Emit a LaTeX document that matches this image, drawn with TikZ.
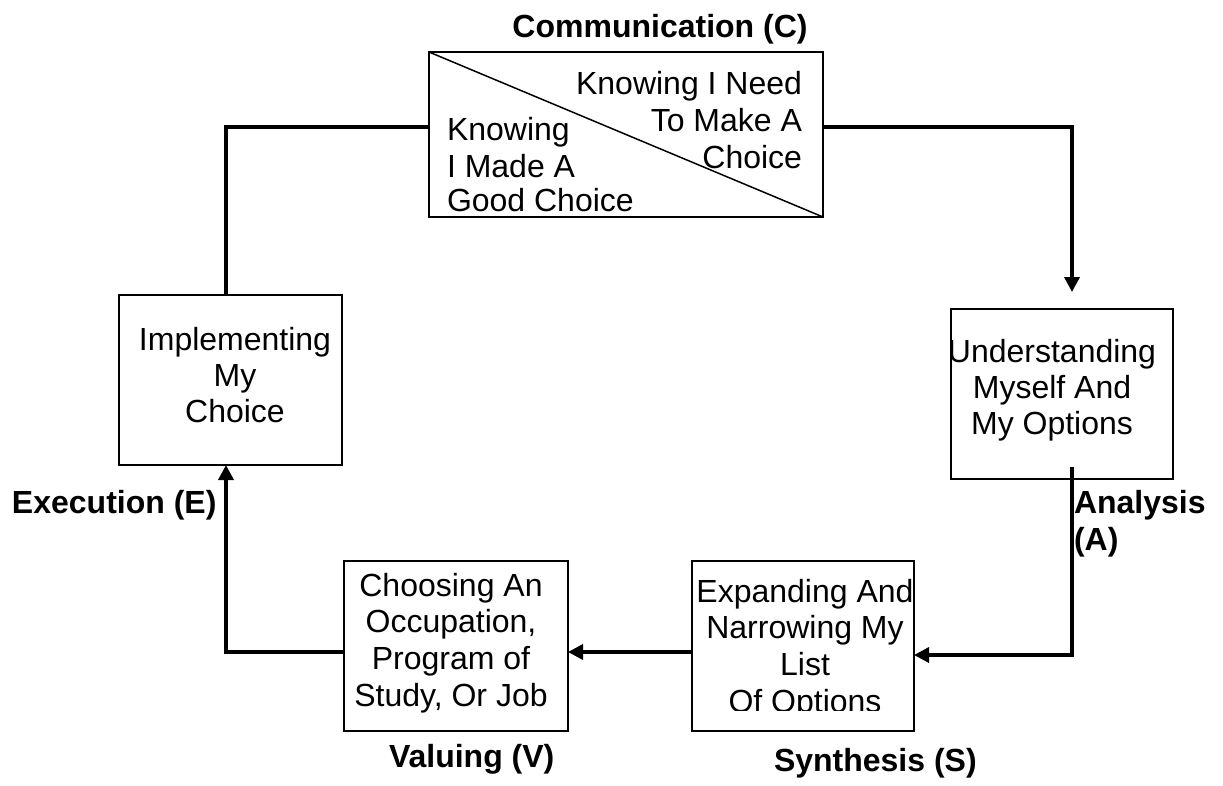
\documentclass[tikz,border=0pt]{standalone}
\usepackage{fontspec}
\setmainfont{Liberation Sans}
\usetikzlibrary{arrows.meta}
\tikzset{
  boxshape/.style={draw, line width=2pt, inner sep=0pt, outer sep=0pt},
  conn/.style={line width=3.5pt},
  arr/.style={-{Triangle[length=15pt,width=15pt]}},
  txt/.style={inner sep=0pt, outer sep=0pt, font=\fontsize{32}{36.5}\selectfont},
  lbl/.style={inner sep=0pt, outer sep=0pt, font=\fontsize{32}{36.5}\selectfont\bfseries, anchor=base west}
}
\begin{document}
\begin{tikzpicture}[x=1pt,y=-1pt]
\path[use as bounding box] (0,0) rectangle (1223,785);
% boxes
\node (comm) [boxshape, minimum width=394pt, minimum height=165pt] at (626,134.5) {};
\node (impl) [boxshape, minimum width=223pt, minimum height=170pt] at (230.5,380) {};
\node (under) [boxshape, minimum width=222pt, minimum height=170pt] at (1062,394) {};
\node (choose) [boxshape, minimum width=224pt, minimum height=170pt] at (456,646) {};
\node (expand) [boxshape, minimum width=222pt, minimum height=170pt] at (803,646) {};
\draw[line width=1.5pt] (comm.north west) -- (comm.south east);
% communication box texts
\node (c1) [txt, anchor=base east] at (802,94) {Knowing I Need};
\node (c2) [txt, anchor=base east] at (802,131) {To Make A};
\node (c3) [txt, anchor=base east] at (802,168) {Choice};
\node (c4) [txt, anchor=base west] at (447,140) {Knowing};
\node (c5) [txt, anchor=base west] at (447,177) {I Made A};
\node (c6) [txt, anchor=base west] at (447,211) {Good Choice};
% implementing
\node (i1) [txt, anchor=base] at (235,350) {Implementing};
\node (i2) [txt, anchor=base] at (235,386) {My};
\node (i3) [txt, anchor=base] at (235,422) {Choice};
% understanding
\node (u1) [txt, anchor=base] at (1052,362) {Understanding};
\node (u2) [txt, anchor=base] at (1052,398) {Myself And};
\node (u3) [txt, anchor=base] at (1052,434) {My Options};
% choosing
\node (h1) [txt, anchor=base] at (451,596) {Choosing An};
\node (h2) [txt, anchor=base] at (451,632.5) {Occupation,};
\node (h3) [txt, anchor=base] at (451,669) {Program of};
\node (h4) [txt, anchor=base] at (451,706) {Study, Or Job};
% expanding
\begin{scope}
\clip (692,561) rectangle (914,710);
\node (e1) [txt, anchor=base] at (805,602) {Expanding And};
\node (e2) [txt, anchor=base] at (805,638) {Narrowing My};
\node (e3) [txt, anchor=base] at (805,675) {List};
\node (e4) [txt, anchor=base] at (805,712.5) {Of Options};
\end{scope}
% labels
\node (lc) [lbl, anchor=base] at (660,37) {Communication (C)};
\node (le) [lbl] at (12,513) {Execution (E)};
\node (la1) [lbl] at (1074,513) {Analysis};
\node (la2) [lbl] at (1074,550) {(A)};
\node (lv) [lbl] at (389,767) {Valuing (V)};
\node (ls) [lbl] at (774,771) {Synthesis (S)};
% connectors
\coordinate (ustart) at (1072,467);
\coordinate (aend) at (1072,292);
\draw[conn] ([yshift=7.5pt]comm.west) -| ([xshift=-4.5pt]impl.north);
\draw[conn,arr] ([yshift=-6pt]choose.west) -| ([xshift=-4.5pt]impl.south);
\draw[conn,arr] ([yshift=-6pt]expand.west) -- ([yshift=-6pt]choose.east);
\draw[conn,arr] (ustart) |- ([yshift=-9pt]expand.east);
\draw[conn,arr] ([yshift=7.5pt]comm.east) -| (aend);
\end{tikzpicture}
\end{document}
